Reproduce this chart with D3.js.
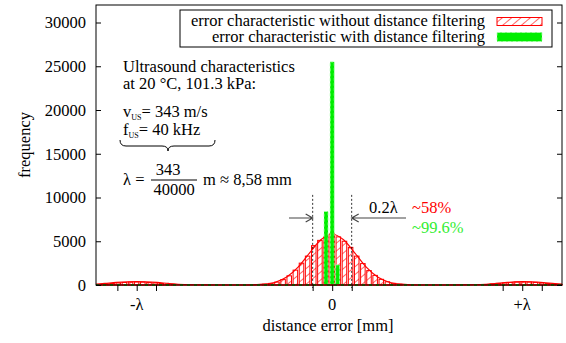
<!DOCTYPE html>
<html lang="en">
<head>
<meta charset="UTF-8">
<title>distance error histogram</title>
<script src="https://d3js.org/d3.v7.min.js"></script>
<style>
    body { margin: 0; background: white; }
    svg text { font-family: "Liberation Serif", "Times New Roman", serif; font-size: 16.5px; fill: black; }
</style>
</head>
<body>
<svg id="chart"></svg>
<script>
    const width = 566;
    const height = 343;
    const lambda = 8.58;

    // red histogram: without distance filtering (bin centers in mm, counts)
    const redCenters = [-2.97, -2.70, -2.43, -2.16, -1.89, -1.62, -1.35, -1.08, -0.81, -0.54, -0.27, 0,
                        0.27, 0.54, 0.81, 1.08, 1.35, 1.62, 1.89, 2.16, 2.43, 2.70, 2.97];
    const redValues = [90, 180, 330, 620, 1050, 1700, 2500, 3300, 4500, 5100, 5500, 5900,
                       5500, 5000, 4300, 3300, 2450, 1650, 1100, 650, 370, 190, 90];
    const leftLobeCenters = [-10.22, -9.95, -9.68, -9.41, -9.14, -8.87, -8.60, -8.33, -8.06, -7.79, -7.52, -7.25, -6.98];
    const rightLobeCenters = [6.78, 7.05, 7.32, 7.59, 7.86, 8.13, 8.40, 8.67, 8.94, 9.21, 9.48, 9.75, 10.02];
    const lobeValues = [60, 110, 170, 230, 290, 330, 345, 330, 290, 230, 170, 110, 60];

    // green histogram: with distance filtering
    const greenCenters = [-0.27, 0, 0.24];
    const greenValues = [8400, 25500, 2300];

    // fitted curve (mm, count)
    const curveX = [-10.39, -10.0, -9.5, -9.0, -8.6, -8.2, -7.7, -7.2, -6.5, -5.5, -4.5, -4.0, -3.5, -3.0, -2.5, -2.0, -1.5, -1.0, -0.5, 0,
                    0.5, 1.0, 1.5, 2.0, 2.5, 3.0, 3.5, 4.0, 4.5, 5.5, 6.5, 7.2, 7.7, 8.0, 8.4, 8.8, 9.3, 9.8, 10.11];
    const curveY = [100, 180, 290, 360, 380, 360, 290, 180, 60, 5, 0, 0, 20, 90, 320, 910, 2050, 3650, 5170, 5800,
                    5170, 3650, 2050, 910, 320, 90, 20, 0, 0, 5, 60, 180, 290, 350, 380, 350, 270, 160, 110];

    const yTicks = [0, 5000, 10000, 15000, 20000, 25000, 30000];
    const xTicks = [-9.45, -8.6, -7.75, -0.86, 0, 0.86, 7.5, 8.36, 9.22];
    const xTickLabels = [[-8.6, "-λ"], [0, "0"], [8.36, "+λ"]];

    const margin = { top: 5, right: 4, bottom: 58, left: 96 };

    const svg = d3.select("#chart").attr("width", width).attr("height", height);

    const x = d3.scaleLinear().domain([-10.39, 10.11]).range([margin.left, width - margin.right]);
    const y = d3.scaleLinear().domain([0, 32000]).range([height - margin.bottom, margin.top]);

    const defs = svg.append("defs");
    const hatch = defs.append("pattern")
        .attr("id", "hatch")
        .attr("patternUnits", "userSpaceOnUse")
        .attr("width", 6).attr("height", 6)
        .attr("patternTransform", "rotate(50)");
    hatch.append("line")
        .attr("x1", 0).attr("y1", 0).attr("x2", 0).attr("y2", 6)
        .attr("stroke", "#ff0000").attr("stroke-width", 1.2);

    const binW = x(0.27) - x(0) - 1.6;

    // red bars
    const redBars = redCenters.map((c, i) => ({ c, v: redValues[i] }))
        .concat(leftLobeCenters.map((c, i) => ({ c, v: lobeValues[i] })))
        .concat(rightLobeCenters.map((c, i) => ({ c, v: lobeValues[i] })));

    svg.append("g").selectAll("rect")
        .data(redBars)
        .enter()
        .append("rect")
        .attr("x", d => x(d.c) - binW / 2)
        .attr("y", d => y(d.v))
        .attr("width", binW)
        .attr("height", d => y(0) - y(d.v))
        .attr("fill", "url(#hatch)")
        .attr("stroke", "#ff0000")
        .attr("stroke-width", 1);

    // fitted curve
    const line = d3.line()
        .x(d => x(d[0]))
        .y(d => y(d[1]))
        .curve(d3.curveMonotoneX);
    svg.append("path")
        .datum(curveX.map((v, i) => [v, curveY[i]]))
        .attr("d", line)
        .attr("fill", "none")
        .attr("stroke", "#ff0000")
        .attr("stroke-width", 1.2);

    // green bars
    const gW = x(0.18) - x(0);
    svg.append("g").selectAll("rect")
        .data(greenCenters.map((c, i) => ({ c, v: greenValues[i] })))
        .enter()
        .append("rect")
        .attr("x", d => x(d.c) - gW / 2)
        .attr("y", d => y(d.v))
        .attr("width", gW)
        .attr("height", d => y(0) - y(d.v))
        .attr("fill", "#00ee00")
        .attr("stroke", "#b0ffb0")
        .attr("stroke-width", 0.8)
        .attr("stroke-dasharray", "3,2");

    // baseline of both series
    svg.append("line")
        .attr("x1", x.range()[0]).attr("x2", x.range()[1])
        .attr("y1", y(0)).attr("y2", y(0))
        .attr("stroke", "#ff0000").attr("stroke-width", 1.5);
    svg.append("line")
        .attr("x1", x.range()[0]).attr("x2", x.range()[1])
        .attr("y1", y(0)).attr("y2", y(0))
        .attr("stroke", "#00aa00").attr("stroke-width", 1.5)
        .attr("stroke-dasharray", "3,4");

    // frame
    svg.append("rect")
        .attr("x", x.range()[0]).attr("y", y.range()[1])
        .attr("width", x.range()[1] - x.range()[0])
        .attr("height", y.range()[0] - y.range()[1])
        .attr("fill", "none").attr("stroke", "black").attr("stroke-width", 1);

    // y axis, ticks inward on both sides
    const yAxis = svg.append("g")
        .attr("transform", `translate(${x.range()[0]},0)`)
        .call(d3.axisLeft(y).tickValues(yTicks).tickSize(-5).tickPadding(10).tickFormat(d3.format("d")));
    yAxis.select(".domain").remove();
    yAxis.selectAll("text").style("font-size", "16.5px").attr("fill", "black");
    const yAxisR = svg.append("g")
        .attr("transform", `translate(${x.range()[1]},0)`)
        .call(d3.axisRight(y).tickValues(yTicks).tickSize(-5).tickFormat(""));
    yAxisR.select(".domain").remove();

    // x axis, ticks outward
    const xAxis = svg.append("g")
        .attr("transform", `translate(0,${y(0)})`)
        .call(d3.axisBottom(x).tickValues(xTicks).tickSize(6).tickFormat(""));
    xAxis.select(".domain").remove();
    svg.append("g").selectAll("text")
        .data(xTickLabels)
        .enter()
        .append("text")
        .attr("x", d => x(d[0]))
        .attr("y", 310)
        .attr("text-anchor", "middle")
        .text(d => d[1]);

    svg.append("text")
        .attr("x", 328).attr("y", 331)
        .attr("text-anchor", "middle")
        .text("distance error [mm]");
    svg.append("text")
        .attr("transform", "translate(30,145) rotate(-90)")
        .attr("text-anchor", "middle")
        .text("frequency");

    // legend
    svg.append("rect")
        .attr("x", 180).attr("y", 10).attr("width", 372).attr("height", 37)
        .attr("fill", "white").attr("stroke", "black").attr("stroke-width", 1);
    svg.append("text").attr("x", 485).attr("y", 25.5).attr("text-anchor", "end")
        .text("error characteristic without distance filtering");
    svg.append("text").attr("x", 485).attr("y", 41.5).attr("text-anchor", "end")
        .text("error characteristic with distance filtering");
    svg.append("rect")
        .attr("x", 497).attr("y", 17.5).attr("width", 45).attr("height", 8)
        .attr("fill", "url(#hatch)").attr("stroke", "#ff0000").attr("stroke-width", 1);
    svg.append("rect")
        .attr("x", 497).attr("y", 32.5).attr("width", 45).attr("height", 9)
        .attr("fill", "#00ee00").attr("stroke", "#b0ffb0").attr("stroke-width", 0.8)
        .attr("stroke-dasharray", "3,2");

    // annotation block
    const note = svg.append("g");
    note.append("text").attr("x", 123).attr("y", 72).text("Ultrasound characteristics");
    note.append("text").attr("x", 123).attr("y", 89).text("at 20 °C, 101.3 kPa:");
    const v = note.append("text").attr("x", 123).attr("y", 117);
    v.append("tspan").text("v");
    v.append("tspan").attr("dy", 3).style("font-size", "8px").text("US");
    v.append("tspan").attr("dy", -3).text("= 343 m/s");
    const f = note.append("text").attr("x", 123).attr("y", 135);
    f.append("tspan").text("f");
    f.append("tspan").attr("dy", 3).style("font-size", "8px").text("US");
    f.append("tspan").attr("dy", -3).text("= 40 kHz");
    note.append("path")
        .attr("d", "M120,140 Q120,146 126,146 L162,146 Q168,146 168,151 Q168,146 174,146 L209,146 Q215,146 215,140")
        .attr("fill", "none").attr("stroke", "black").attr("stroke-width", 1);
    note.append("text").attr("x", 123).attr("y", 185).text("λ =");
    note.append("text").attr("x", 168).attr("y", 175).attr("text-anchor", "middle").text("343");
    note.append("line").attr("x1", 151).attr("x2", 197).attr("y1", 180).attr("y2", 180)
        .attr("stroke", "black").attr("stroke-width", 1);
    note.append("text").attr("x", 174).attr("y", 195).attr("text-anchor", "middle").text("40000");
    note.append("text").attr("x", 203).attr("y", 185).text("m ≈ 8,58 mm");

    // 0.2 lambda markers
    const lo = -0.1 * lambda, hi = 0.1 * lambda;
    [lo, hi].forEach(m => {
        svg.append("line")
            .attr("x1", x(m)).attr("x2", x(m))
            .attr("y1", y(10300)).attr("y2", y(0) + 3)
            .attr("stroke", "black").attr("stroke-width", 0.8)
            .attr("stroke-dasharray", "2,2");
    });
    const ay = 218;
    const arrowColor = "#444";
    svg.append("path")
        .attr("d", `M289,${ay} L${x(lo)},${ay} M${x(lo) - 7},${ay - 4} L${x(lo)},${ay} L${x(lo) - 7},${ay + 4}`)
        .attr("fill", "none").attr("stroke", arrowColor).attr("stroke-width", 1.2);
    svg.append("path")
        .attr("d", `M406,${ay} L${x(hi)},${ay} M${x(hi) + 7},${ay - 4} L${x(hi)},${ay} L${x(hi) + 7},${ay + 4}`)
        .attr("fill", "none").attr("stroke", arrowColor).attr("stroke-width", 1.2);
    svg.append("text").attr("x", 369).attr("y", 213).text("0.2λ");
    svg.append("text").attr("x", 412).attr("y", 213).style("fill", "#ff0000").text("~58%");
    svg.append("text").attr("x", 412).attr("y", 233).style("fill", "#33ee33").text("~99.6%");
</script>
</body>
</html>
